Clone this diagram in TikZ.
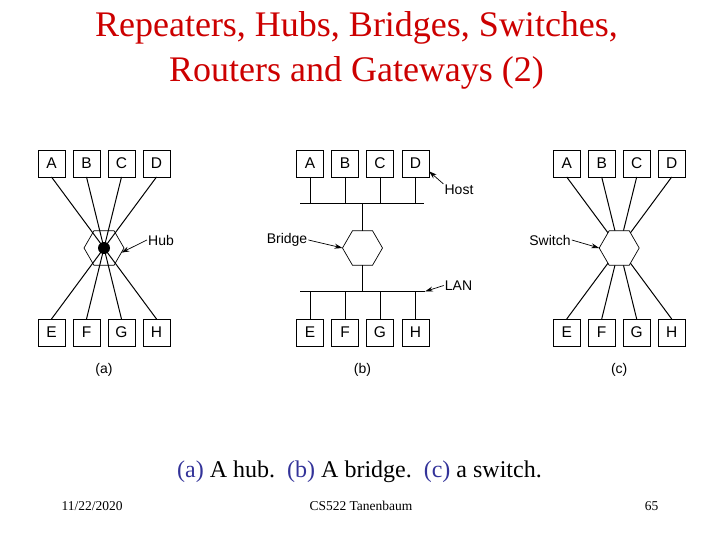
\documentclass[tikz,border=0pt]{standalone}
\usepackage{fontspec}
\setmainfont{Liberation Serif}
\newfontfamily\arialf{Liberation Sans}
\usetikzlibrary{shapes.geometric,arrows.meta,calc}
\definecolor{titlered}{RGB}{204,0,0}
\definecolor{capblue}{RGB}{51,51,153}
\begin{document}
\begin{tikzpicture}[x=1pt,y=-1pt,
 host/.style={draw, line width=0.9pt, minimum size=27pt, inner sep=0pt, outer sep=0pt, font=\arialf\fontsize{15.5}{17}\selectfont},
 hexa/.style={draw, regular polygon, regular polygon sides=6, minimum size=40pt, inner sep=0pt, outer sep=0pt, line width=0.7pt},
 link/.style={line width=1pt},
 lbl/.style={font=\arialf\fontsize{14}{16}\selectfont, inner sep=1pt},
 pointer/.style={line width=0.7pt, -{Stealth[length=8pt,width=5pt]}},
 title/.style={font=\fontsize{36}{40}\selectfont, text=titlered, anchor=base, inner sep=0pt},
 foot/.style={font=\fontsize{13.5}{15}\selectfont, anchor=base, inner sep=0pt},
]
\useasboundingbox (0,0) rectangle (720,540);

% title
\node[title] (t1) at (356.5,37) {Repeaters, Hubs, Bridges, Switches,};
\node[title] (t2) at (356.5,82) {Routers and Gateways (2)};

% ---------- (a) hub ----------
\foreach \n/\x in {A/51.5,B/86.5,C/121.5,D/156.5}
  \node[host] (a\n) at (\x,163.5) {\n};
\foreach \n/\x in {E/51.5,F/86.5,G/121.5,H/156.5}
  \node[host] (a\n) at (\x,332.5) {\n};
\node[hexa] (hub) at (104,248) {};
\foreach \n in {A,B,C,D}
  \draw[link] (a\n.south) -- (hub.center);
\foreach \n in {E,F,G,H}
  \draw[link] (a\n.north) -- (hub.center);
\fill (hub.center) circle (6);
\node[lbl] (hubl) at (161,240) {Hub};
\draw[pointer] (hubl.west) -- (hub.-15);
\node[lbl] (la) at (104,370) {(a)};

% ---------- (b) bridge ----------
\foreach \n/\x in {A/310,B/345,C/380,D/415.5}
  \node[host] (b\n) at (\x,163.5) {\n};
\foreach \n/\x in {E/310,F/345,G/380,H/415.5}
  \node[host] (b\n) at (\x,332.5) {\n};
\coordinate (b1L) at (300,204);
\coordinate (b1R) at (424,204);
\coordinate (b2L) at (300,291.5);
\coordinate (b2R) at (425,291.5);
\draw[link] (b1L) -- (b1R);
\draw[link] (b2L) -- (b2R);
\foreach \n in {A,B,C,D}
  \draw[link] (b\n.south) -- (b\n.south |- b1L);
\foreach \n in {E,F,G,H}
  \draw[link] (b\n.north) -- (b\n.north |- b2L);
\node[hexa] (br) at (362.5,248) {};
\draw[link] (br.north) -- (br.north |- b1L);
\draw[link] (br.south) -- (br.south |- b2L);
\node[lbl] (hostl) at (459,190) {Host};
\draw[pointer] (hostl.north west) -- (bD.-30);
\node[lbl] (bridgel) at (287,240) {Bridge};
\draw[pointer] (bridgel.east) -- (br.west);
\node[lbl] (lanl) at (458.5,285.5) {LAN};
\draw[pointer] (lanl.west) -- (b2R);
\node[lbl] (lb) at (362.5,370) {(b)};

% ---------- (c) switch ----------
\foreach \n/\x in {A/566.7,B/601.7,C/636.7,D/671.7}
  \node[host] (c\n) at (\x,163.5) {\n};
\foreach \n/\x in {E/566.7,F/601.7,G/636.7,H/671.7}
  \node[host] (c\n) at (\x,332.5) {\n};
\node[hexa] (sw) at (619.2,248) {};
\foreach \n in {A,B,C,D}
  \draw[link] (c\n.south) -- (sw);
\foreach \n in {E,F,G,H}
  \draw[link] (c\n.north) -- (sw);
\node[lbl] (swl) at (550,240) {Switch};
\draw[pointer] (swl.east) -- (sw.west);
\node[lbl] (lc) at (619.2,370) {(c)};

% caption
\node[font=\fontsize{24}{28}\selectfont, anchor=base, inner sep=0pt] (cap) at (359.5,477)
 {{\color{capblue}(a)} A hub.\ \ {\color{capblue}(b)} A bridge.\ \ {\color{capblue}(c)} a switch.};

% footer
\node[foot, anchor=base west] (date) at (61.5,510) {11/22/2020};
\node[foot] (course) at (361,510) {CS522 Tanenbaum};
\node[foot] (page) at (651.5,510) {65};
\end{tikzpicture}
\end{document}
